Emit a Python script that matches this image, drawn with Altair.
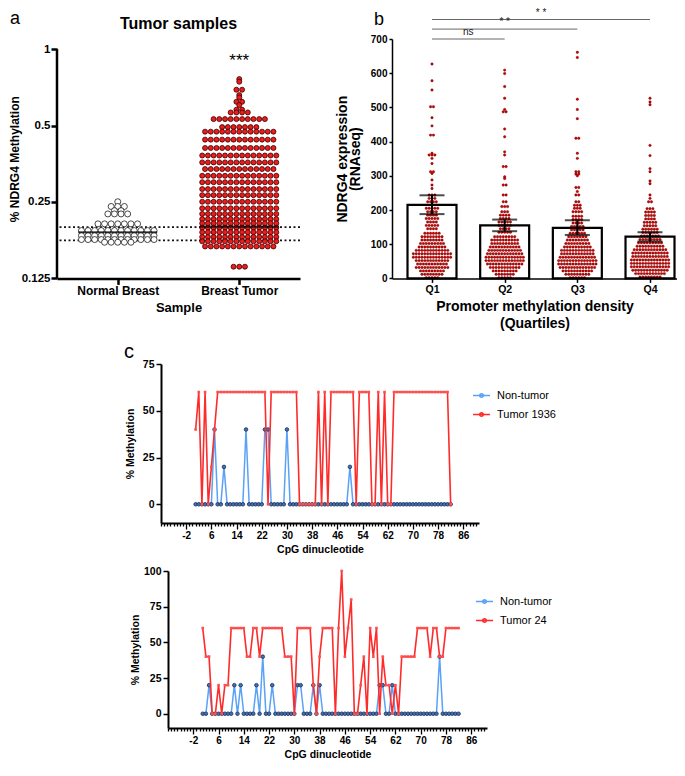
import json
import altair as alt
import pandas as pd

FONT = "Liberation Sans"

# ---------------- panel a : methylation beeswarm ----------------
A_GROUPS = ["Normal Breast", "Breast Tumor"]
A_NORMAL_LEVELS = [0.2505, 0.240, 0.231, 0.2243, 0.205, 0.1929, 0.1843, 0.1778, 0.1735]
A_NORMAL_COUNTS = [1, 3, 2, 4, 7, 12, 12, 12, 5]
A_TUMOR_LEVELS = [0.762, 0.744, 0.692, 0.659, 0.645, 0.620, 0.602, 0.577, 0.563, 0.530,
                  0.493, 0.473, 0.440, 0.408, 0.381, 0.358, 0.337, 0.317, 0.299, 0.281,
                  0.266, 0.2505, 0.236, 0.2243, 0.214, 0.206, 0.198, 0.190, 0.182, 0.175,
                  0.167, 0.139]
A_TUMOR_COUNTS = [1, 1, 2, 1, 1, 2, 1, 2, 4, 10,
                  7, 13, 13, 13, 14, 14, 13, 14, 14, 14,
                  14, 14, 14, 14, 14, 14, 14, 14, 14, 14,
                  13, 3]
A_CENTER_LINES = [0.190, 0.200]
A_DOTTED_LINES = [0.199, 0.1765]
A_Y_TICKS = [0.125, 0.25, 0.5, 1]
A_STAR_LEVEL = 0.90

# ---------------- panel b : expression by quartile ----------------
B_QUARTILES = ["Q1", "Q2", "Q3", "Q4"]
B_MEANS = [215, 155, 148, 122]
B_SEM_LOW = [188, 138, 127, 108]
B_SEM_HIGH = [243, 172, 170, 135]
B_Y_TICKS = [0, 100, 200, 300, 400, 500, 600, 700]
Q1_VALUES = [627, 578, 551, 502, 470, 446, 419, 366, 361, 351, 336, 312, 307, 288, 273, 263, 244, 234, 224, 205,
             195, 185, 175, 165, 155, 145, 132, 122, 112, 102, 92, 82, 72, 62, 52, 42, 32, 22, 12, 2]
Q1_COUNTS = [1, 1, 1, 2, 1, 1, 2, 1, 3, 1, 1, 2, 1, 1, 1, 1, 3, 3, 4, 5,
             4, 4, 5, 4, 5, 4, 6, 8, 8, 9, 10, 12, 14, 14, 12, 11, 12, 9, 8, 5]
Q2_VALUES = [609, 599, 561, 527, 494, 487, 437, 414, 370, 361, 327, 297, 292, 273, 244, 224, 210, 195, 185, 175,
             165, 155, 145, 135, 122, 112, 102, 92, 82, 72, 62, 52, 42, 32, 22, 12, 2]
Q2_COUNTS = [1, 1, 1, 1, 1, 2, 1, 1, 1, 1, 2, 1, 1, 2, 2, 2, 3, 3, 4, 4,
             5, 5, 4, 5, 8, 10, 10, 11, 12, 13, 14, 14, 13, 11, 9, 7, 5]
Q3_VALUES = [661, 646, 524, 494, 467, 410, 366, 351, 312, 305, 300, 266, 254, 244, 224, 214, 205, 195, 182, 172,
             162, 152, 142, 132, 122, 112, 102, 92, 82, 72, 62, 52, 42, 32, 22, 12, 2]
Q3_COUNTS = [1, 1, 1, 1, 1, 2, 1, 1, 2, 2, 1, 2, 1, 2, 2, 3, 3, 4, 4, 4,
             4, 5, 5, 6, 7, 8, 9, 10, 12, 12, 13, 14, 14, 13, 11, 9, 6]
Q4_VALUES = [527, 516, 508, 389, 359, 321, 312, 285, 277, 244, 234, 224, 204, 194, 184, 174, 164, 154, 144, 134,
             124, 114, 104, 94, 84, 74, 64, 54, 44, 34, 24, 14, 4]
Q4_COUNTS = [1, 1, 1, 1, 1, 1, 1, 1, 1, 1, 1, 2, 3, 4, 4, 4, 5, 5, 6, 6,
             7, 8, 9, 10, 12, 13, 13, 14, 14, 14, 13, 11, 8]
B_BRACKET_FROM = ["Q1", "Q1", "Q1"]
B_BRACKET_TO = ["Q2", "Q3", "Q4"]
B_BRACKET_LEVEL = [700, 729, 757]
B_BRACKET_TEXT = ["ns", "* *", "* *"]
B_BRACKET_TEXT_LEVEL = [705, 734, 761]

# ---------------- panel c : CpG methylation profiles ----------------
CPG_SITES = list(range(1, 83))
C_X_TICK_VALUES = list(range(-10, 91))
C_X_MAJOR_TICKS = [-2, 6, 14, 22, 30, 38, 46, 54, 62, 70, 78, 86]
C1_NONTUMOR = [0, 0, 0, 0, 0, 0, 40, 0, 0, 20,
               0, 0, 0, 0, 0, 0, 40, 0, 0, 0,
               0, 0, 40, 40, 0, 0, 0, 0, 0, 40,
               0, 0, 0, 0, 0, 0, 0, 0, 0, 0,
               0, 0, 0, 0, 0, 0, 0, 0, 0, 20,
               0, 0, 0, 0, 0, 0, 0, 0, 0, 0,
               0, 0, 0, 0, 0, 0, 0, 0, 0, 0,
               0, 0, 0, 0, 0, 0, 0, 0, 0, 0,
               0, 0]
C1_TUMOR = [40, 60, 0, 60, 0, 20, 40, 60, 60, 60,
            60, 60, 60, 60, 60, 60, 60, 60, 60, 60,
            60, 60, 60, 0, 60, 60, 60, 60, 60, 60,
            60, 60, 60, 0, 0, 0, 0, 0, 0, 60,
            0, 60, 0, 60, 60, 60, 60, 60, 60, 60,
            60, 0, 60, 60, 60, 60, 0, 0, 60, 0,
            60, 0, 0, 60, 60, 60, 60, 60, 60, 60,
            60, 60, 60, 60, 60, 60, 60, 60, 60, 60,
            60, 0]
C2_NONTUMOR = [0, 0, 20, 0, 0, 0, 0, 0, 0, 0,
               20, 0, 20, 0, 0, 0, 0, 20, 0, 40,
               0, 0, 20, 0, 0, 0, 0, 0, 0, 0,
               20, 20, 0, 0, 0, 20, 0, 20, 0, 0,
               0, 0, 0, 0, 0, 0, 0, 0, 0, 0,
               0, 0, 0, 0, 0, 0, 20, 20, 0, 0,
               20, 0, 0, 0, 0, 0, 0, 0, 0, 0,
               0, 0, 0, 0, 0, 40, 0, 0, 0, 0,
               0, 0]
C2_TUMOR = [60, 40, 40, 0, 0, 20, 0, 20, 20, 60,
            60, 60, 60, 60, 40, 40, 60, 60, 40, 60,
            60, 60, 60, 60, 60, 60, 40, 40, 40, 0,
            60, 60, 60, 60, 60, 20, 0, 40, 60, 60,
            60, 60, 0, 60, 100, 40, 60, 80, 0, 0,
            20, 40, 0, 60, 40, 60, 0, 40, 20, 20,
            0, 20, 0, 40, 40, 40, 40, 40, 60, 60,
            60, 60, 40, 60, 60, 40, 40, 60, 60, 60,
            60, 60]

BLUE = "#5aa2f6"
RED = "#ff2b2b"
LEGEND_SYMBOL = "M-1,0L1,0M-0.22,0A0.22,0.22,0,1,1,0.22,0A0.22,0.22,0,1,1,-0.22,0"


def expand(groups, levels_list, counts_list, gname, vname):
    rows = []
    for g, levels, counts in zip(groups, levels_list, counts_list):
        for v, c in zip(levels, counts):
            for _ in range(c):
                rows.append({gname: g, vname: v})
    return pd.DataFrame(rows)


def index_expr(categories, field):
    return f"indexof({json.dumps(categories)}, datum.{field})"


def swarm(chart, g, v, categories, slots):
    # beeswarm: points sharing a level are spread symmetrically around their category centre
    idx = index_expr(categories, g)
    return (chart.transform_window(rank="row_number()", groupby=[g, v])
                 .transform_joinaggregate(n="count()", groupby=[g, v])
                 .transform_calculate(pos=f"{idx} + (datum.rank - (datum.n + 1) / 2) * {json.dumps(slots)}[{idx}]"))


def letter(txt, x, y, size, baseline="alphabetic"):
    return alt.Chart(pd.DataFrame({"t": [txt]})).mark_text(
        fontSize=size, baseline=baseline, align="left", color="black"
    ).encode(text="t:N", x=alt.value(x), y=alt.value(y))


# ---------------- build panel a ----------------
A_W, A_H = 243, 239.4
A_SLOTS = [0.0543, 0.0469]          # spacing of neighbouring dots, in category units
A_DOT_SIZES = [36, 25]
df_a = expand(A_GROUPS, [A_NORMAL_LEVELS, A_TUMOR_LEVELS], [A_NORMAL_COUNTS, A_TUMOR_COUNTS], "group", "value")

xa = alt.X("pos:Q", scale=alt.Scale(domain=[-0.5, 1.5], nice=False, zero=False),
           axis=alt.Axis(title="Sample", values=[0, 1], labelExpr=f"{json.dumps(A_GROUPS)}[datum.value]",
                         labelAngle=0, labelFontSize=12, labelFontWeight="bold",
                         titleFontSize=13, titleFontWeight="bold", tickSize=6, tickWidth=2.5,
                         domainWidth=2.5, labelPadding=1, titlePadding=5, labelFlush=False))
ya = alt.Y("value:Q",
           scale=alt.Scale(type="log", base=2, domain=[0.125, 1.096], nice=False),
           axis=alt.Axis(title="% NDRG4 Methylation", values=A_Y_TICKS, format="~g", domain=False,
                         tickSize=6, tickWidth=2.5, labelFontSize=11.5, labelFontWeight="bold",
                         labelPadding=1, titleFontSize=12, titleFontWeight="bold", titlePadding=0,
                         labelOverlap=False))

dotted_a = alt.Chart(pd.DataFrame({"value": A_DOTTED_LINES})).mark_rule(
    strokeDash=[2, 2.5], strokeWidth=1.6, color="#111111").encode(y=ya)
pts_a = swarm(alt.Chart(df_a), "group", "value", A_GROUPS, A_SLOTS).mark_circle(
    strokeWidth=0.8, opacity=1).encode(
    x=xa, y=ya,
    size=alt.Size("group:N", scale=alt.Scale(domain=A_GROUPS, range=A_DOT_SIZES), legend=None),
    fill=alt.Fill("group:N", scale=alt.Scale(domain=A_GROUPS, range=["#ffffff", "#ee1b1b"]), legend=None),
    stroke=alt.Stroke("group:N", scale=alt.Scale(domain=A_GROUPS, range=["#1c1c1c", "#3b0000"]), legend=None),
)
center_a = alt.Chart(pd.DataFrame({"group": A_GROUPS, "value": A_CENTER_LINES})).transform_calculate(
    pos=index_expr(A_GROUPS, "group")).mark_tick(
    color="black", thickness=2.2, size=79, orient="horizontal").encode(x=xa, y=ya)
stars_a = alt.Chart(pd.DataFrame({"group": ["Breast Tumor"], "value": [A_STAR_LEVEL], "label": ["***"]})).transform_calculate(
    pos=index_expr(A_GROUPS, "group")).mark_text(
    fontSize=17, baseline="middle", color="black").encode(x=xa, y=ya, text="label:N")
axisline_a = alt.Chart(pd.DataFrame({"value": [A_Y_TICKS[0]], "value2": [A_Y_TICKS[-1]]})).mark_rule(
    color="black", strokeWidth=2.5).encode(y=ya, y2="value2:Q", x=alt.value(0))
title_a = alt.Chart(pd.DataFrame({"t": ["Tumor samples"]})).mark_text(
    fontSize=16, fontWeight="bold", baseline="middle", align="center", color="black"
).encode(text="t:N", x=alt.value(A_W / 2), y=alt.value(-15))

panel_a = alt.layer(dotted_a, pts_a, center_a, stars_a, axisline_a, title_a,
                    letter("a", -47, -15, 18)).properties(width=A_W, height=A_H)

# ---------------- build panel b ----------------
B_W, B_H = 285, 239.4
B_X_DOMAIN = [-0.5504, 3.3714]   # category centres at 40, 112.7, 185.3, 258 px
B_BAR_HALF = 0.337
B_SLOTS = [0.0395, 0.0395, 0.0395, 0.0395]
df_b = expand(B_QUARTILES, [Q1_VALUES, Q2_VALUES, Q3_VALUES, Q4_VALUES],
              [Q1_COUNTS, Q2_COUNTS, Q3_COUNTS, Q4_COUNTS], "q", "val")
QI = index_expr(B_QUARTILES, "q")

xb = alt.X("pos:Q", scale=alt.Scale(domain=B_X_DOMAIN, nice=False, zero=False),
           axis=alt.Axis(title=["Promoter methylation density", "(Quartiles)"], values=[0, 1, 2, 3],
                         labelExpr=f"{json.dumps(B_QUARTILES)}[datum.value]", labelAngle=0,
                         labelFontSize=10.5, labelFontWeight="bold", titleFontSize=14,
                         titleFontWeight="bold", titleLineHeight=16.5, tickSize=4, tickWidth=1.5,
                         domainWidth=1.5, labelPadding=2, titlePadding=5, labelFlush=False))
yb = alt.Y("val:Q", scale=alt.Scale(domain=[0, 700], nice=False),
           axis=alt.Axis(title=["NDRG4 expression", "(RNAseq)"], values=B_Y_TICKS, tickSize=3,
                         tickWidth=1.5, domainWidth=1.5, labelFontSize=10, labelFontWeight="bold",
                         labelPadding=2, titleFontSize=14, titleFontWeight="bold", titleLineHeight=13,
                         titlePadding=8))

bar_src = alt.Chart(pd.DataFrame({"q": B_QUARTILES, "val": B_MEANS})).transform_calculate(
    pos=f"{QI} - {B_BAR_HALF}", pos2=f"{QI} + {B_BAR_HALF}", base="0")
bars_fill_b = bar_src.mark_rect(fill="white", strokeWidth=0).encode(
    x=xb, x2="pos2:Q", y=yb, y2="base:Q")
bars_edge_b = bar_src.mark_rect(fillOpacity=0, stroke="black", strokeWidth=2.2).encode(
    x=xb, x2="pos2:Q", y=yb, y2="base:Q")
dots_b = swarm(alt.Chart(df_b), "q", "val", B_QUARTILES, B_SLOTS).mark_circle(
    size=6, fill="#d60000", stroke="#5a0000", strokeWidth=0.4, opacity=1).encode(x=xb, y=yb)
err_b = alt.Chart(pd.DataFrame({"q": B_QUARTILES, "val": B_SEM_LOW, "val2": B_SEM_HIGH})).transform_calculate(
    pos=QI).mark_rule(color="black", strokeWidth=2).encode(x=xb, y=yb, y2="val2:Q")
caps_b = alt.Chart(pd.DataFrame({"q": B_QUARTILES + B_QUARTILES, "val": B_SEM_LOW + B_SEM_HIGH})).transform_calculate(
    pos=QI).mark_tick(color="black", thickness=2, size=25, orient="horizontal").encode(x=xb, y=yb)
br_df = pd.DataFrame({"q": B_BRACKET_FROM, "q2": B_BRACKET_TO, "val": B_BRACKET_LEVEL,
                      "label": B_BRACKET_TEXT, "tval": B_BRACKET_TEXT_LEVEL})
brackets_b = alt.Chart(br_df).transform_calculate(
    pos=QI, pos2=index_expr(B_QUARTILES, "q2")).mark_rule(
    color="#555555", strokeWidth=0.9).encode(x=xb, x2="pos2:Q", y=yb)
bracket_labels_b = alt.Chart(br_df).transform_calculate(
    pos=f"({QI} + {index_expr(B_QUARTILES, 'q2')}) / 2", val="datum.tval").mark_text(
    fontSize=10, baseline="bottom", color="#222222").encode(x=xb, y=yb, text="label:N")

panel_b = alt.layer(bars_fill_b, dots_b, bars_edge_b, err_b, caps_b, brackets_b, bracket_labels_b,
                    letter("b", -18, -14, 18)).properties(width=B_W, height=B_H)


# ---------------- build panels c ----------------
def methylation_panel(blue, red, tumor_label, y_max, y_ticks, x0, width, height,
                      title_pad, legend_x, legend_y, extra=None):
    df = pd.DataFrame({
        "cpg": CPG_SITES + CPG_SITES,
        "pct": blue + red,
        "series": ["Non-tumor"] * len(blue) + [tumor_label] * len(red),
    })
    major = "indexof([" + ",".join(str(t) for t in C_X_MAJOR_TICKS) + "], datum.value) >= 0"
    x = alt.X("cpg:Q", scale=alt.Scale(domain=[-10, 91], range=[x0, width], nice=False, zero=False),
              axis=alt.Axis(title="CpG dinucleotide", values=C_X_TICK_VALUES,
                            labelExpr=f"{major} ? '' + datum.value : ''",
                            tickSize={"condition": {"test": major, "value": 6}, "value": 3},
                            tickWidth=1.3, domainWidth=2, labelFontSize=10, labelFontWeight="bold",
                            labelPadding=1, labelOverlap=False, labelFlush=False,
                            titleFontSize=10.5, titleFontWeight="bold", titlePadding=4))
    y = alt.Y("pct:Q", scale=alt.Scale(domain=[-10, y_max], nice=False, zero=False),
              axis=alt.Axis(title="% Methylation", values=y_ticks, tickSize=5, tickWidth=1.5,
                            domainWidth=2, labelFontSize=10.5, labelFontWeight="bold", labelPadding=2,
                            titleFontSize=10.5, titleFontWeight="bold", titlePadding=title_pad,
                            offset=-x0))
    color = alt.Color("series:N", scale=alt.Scale(domain=["Non-tumor", tumor_label], range=[BLUE, RED]),
                      legend=alt.Legend(orient="none", legendX=legend_x, legendY=legend_y, title=None,
                                        symbolType=LEGEND_SYMBOL, symbolSize=289, symbolStrokeWidth=1.5,
                                        labelFontSize=11, labelOffset=6, rowPadding=4, padding=0,
                                        labelColor="black"))
    base = alt.Chart(df)
    blue_f = alt.datum.series == "Non-tumor"
    red_f = alt.datum.series == tumor_label
    layers = [
        base.transform_filter(blue_f).mark_line(strokeWidth=1.5).encode(x=x, y=y, color=color),
        base.transform_filter(blue_f).mark_circle(size=13, fill="#3f72b8", stroke="#1b2c50",
                                                  strokeWidth=0.8, opacity=1).encode(x=x, y=y),
        base.transform_filter(red_f).mark_line(strokeWidth=1.6).encode(x=x, y=y, color=color),
        base.transform_filter(red_f).mark_square(size=7, color="#ff5050", opacity=1).encode(x=x, y=y),
    ]
    if extra is not None:
        layers.append(extra)
    return alt.layer(*layers).properties(width=width, height=height)


panel_c1 = methylation_panel(C1_NONTUMOR, C1_TUMOR, "Tumor 1936", 75, [0, 25, 50, 75], 104, 422, 159,
                             7, 104 + 311, 22, extra=letter("c", 104 - 37, -22, 20, baseline="top"))
panel_c2 = methylation_panel(C2_NONTUMOR, C2_TUMOR, "Tumor 24", 100, [0, 25, 50, 75, 100], 111, 430, 157,
                             3, 111 + 307, 21)

row1 = alt.hconcat(panel_a, panel_b, spacing=92, bounds="flush").resolve_scale(
    x="independent", y="independent")
cpan = alt.vconcat(panel_c1, panel_c2, spacing=11).resolve_scale(
    x="independent", y="independent", color="independent")
chart = alt.vconcat(row1, cpan, spacing=11).resolve_scale(color="independent").properties(padding=0)

chart = (chart.configure_view(stroke=None)
              .configure_axis(grid=False, domainColor="black", tickColor="black", labelColor="black",
                              titleColor="black", labelFont=FONT, titleFont=FONT)
              .configure_text(font=FONT)
              .configure_legend(labelFont=FONT))

chart.save("out.html", embed_options={"renderer": "svg", "actions": False})
